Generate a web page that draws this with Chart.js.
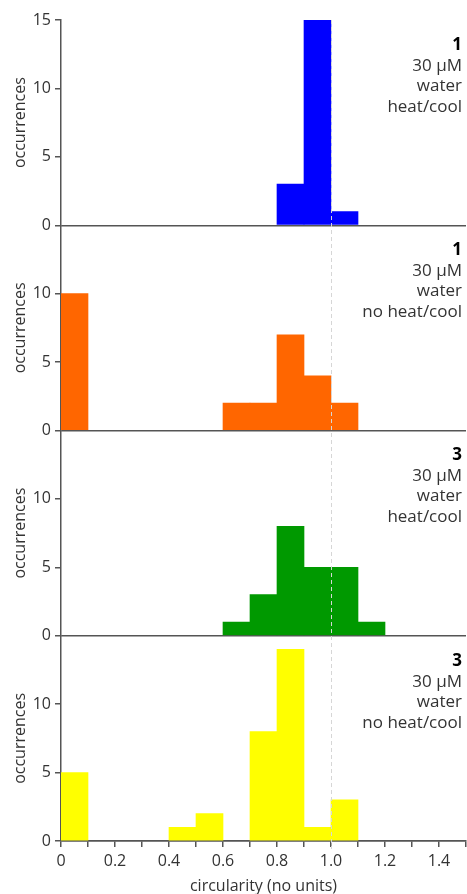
<!DOCTYPE html>
<html>
<head>
<meta charset="utf-8">
<script src="https://cdn.jsdelivr.net/npm/chart.js@4"></script>
<style>
  html, body { margin: 0; padding: 0; background: #fff; }
  #wrap { width: 467px; height: 894px; }
</style>
</head>
<body>
<div id="wrap"><canvas id="histChart"></canvas></div>
<script>
// bin centres (circularity, bins 0.1 wide)
const binCenters = [0.05, 0.15, 0.25, 0.35, 0.45, 0.55, 0.65, 0.75, 0.85, 0.95, 1.05, 1.15, 1.25, 1.35, 1.45];

// occurrences per bin, one list per sample
const counts1Heat   = [0, 0, 0, 0, 0, 0, 0, 0, 3, 15, 1, 0, 0, 0, 0];
const counts1NoHeat = [10, 0, 0, 0, 0, 0, 2, 2, 7, 4, 2, 0, 0, 0, 0];
const counts3Heat   = [0, 0, 0, 0, 0, 0, 1, 3, 8, 5, 5, 1, 0, 0, 0];
const counts3NoHeat = [5, 0, 0, 0, 1, 2, 0, 8, 14, 1, 3, 0, 0, 0, 0];

// panel labels
const panelCompound  = ['1', '1', '3', '3'];
const panelConc      = ['30 μM', '30 μM', '30 μM', '30 μM'];
const panelSolvent   = ['water', 'water', 'water', 'water'];
const panelTreatment = ['heat/cool', 'no heat/cool', 'heat/cool', 'no heat/cool'];
const panelColors    = ['#0000ff', '#ff6600', '#009900', '#ffff00'];

const yMax = 15;
const xMin = 0, xMax = 1.5, xStep = 0.1;
const refLine = 1.0;

const allCounts = [counts1Heat, counts1NoHeat, counts3Heat, counts3NoHeat];
const FONT = '"Open Sans", "Noto Sans", sans-serif';
const AXIS = '#555';
const TEXT = '#333';

function yAxis(i) {
    return {
        type: 'linear',
        position: 'left',
        stack: 'panels',
        stackWeight: 1,
        weight: 4 - i,
        z: 1,
        min: 0,
        max: yMax,
        afterFit: s => { s.width = 61; },
        ticks: {
            stepSize: 5,
            color: TEXT,
            font: { family: FONT, size: 16 },
            padding: 4,
            callback: v => (i > 0 && v === yMax) ? '' : v
        },
        grid: {
            color: c => (c.tick && c.tick.value === 0) ? AXIS : 'transparent',
            tickColor: c => (i > 0 && c.tick && c.tick.value === yMax) ? 'transparent' : AXIS,
            tickLength: 6,
            lineWidth: 1.5
        },
        border: { color: AXIS, width: 1.5 },
        title: {
            display: true,
            text: 'occurrences',
            color: TEXT,
            font: { family: FONT, size: 16, lineHeight: 1 },
            padding: { top: 12, bottom: 0 }
        }
    };
}

// dashed reference line at circularity = 1
const refLinePlugin = {
    id: 'refLine',
    afterDatasetsDraw(chart) {
        const { ctx, chartArea, scales } = chart;
        const px = Math.round(scales.x.getPixelForValue(refLine)) + 0.5;
        ctx.save();
        ctx.strokeStyle = '#d6d6d6';
        ctx.lineWidth = 1;
        ctx.setLineDash([4, 3]);
        ctx.beginPath();
        ctx.moveTo(px, chartArea.top);
        ctx.lineTo(px, chartArea.bottom + 8);
        ctx.stroke();
        ctx.restore();
    }
};

// sample description in the top right of each panel
const panelLabelPlugin = {
    id: 'panelLabels',
    afterDraw(chart) {
        const { ctx, chartArea } = chart;
        const x = chartArea.right - 4;
        ctx.save();
        ctx.textAlign = 'right';
        ctx.textBaseline = 'middle';
        panelCompound.forEach((c, i) => {
            const top = chart.scales['y' + (i + 1)].top;
            ctx.fillStyle = '#000';
            ctx.font = 'bold 17px ' + FONT;
            ctx.fillText(c, x, top + 25);
            ctx.fillStyle = TEXT;
            ctx.font = '17px ' + FONT;
            ctx.fillText(panelConc[i], x, top + 46);
            ctx.fillText(panelSolvent[i], x, top + 66);
            ctx.fillText(panelTreatment[i], x, top + 87);
        });
        ctx.restore();
    }
};

// empty bins are left out so no hairline is drawn on the baseline
const datasets = allCounts.map((counts, i) => ({
    data: binCenters.map((b, k) => ({ x: b, y: counts[k] })).filter(p => p.y > 0),
    yAxisID: 'y' + (i + 1),
    backgroundColor: panelColors[i],
    borderWidth: 0,
    grouped: false,
    barPercentage: 1,
    categoryPercentage: 1
}));

const scales = {
    x: {
        type: 'linear',
        position: 'bottom',
        min: xMin,
        max: xMax,
        offset: false,
        z: 1,
        afterFit: s => {
            s.height = 53;
            s.paddingRight = 0;
            s.paddingLeft = 0;
        },
        ticks: {
            stepSize: xStep,
            autoSkip: false,
            maxRotation: 0,
            color: TEXT,
            font: { family: FONT, size: 16, lineHeight: 1 },
            padding: 6,
            callback: v => {
                const k = Math.round(v * 10);
                if (k % 2) return '';
                return k === 0 ? '0' : (k / 10).toFixed(1);
            }
        },
        grid: { drawOnChartArea: false, offset: false, color: AXIS, tickLength: 6, lineWidth: 1.5 },
        border: { color: AXIS, width: 1.5 },
        title: {
            display: true,
            text: 'circularity (no units)',
            color: TEXT,
            font: { family: FONT, size: 16, lineHeight: 1 },
            padding: { top: 0, bottom: 0 }
        }
    }
};
panelCompound.forEach((_, i) => { scales['y' + (i + 1)] = yAxis(i); });

new Chart(document.getElementById('histChart'), {
    type: 'bar',
    data: { datasets },
    options: {
        responsive: true,
        maintainAspectRatio: false,
        animation: false,
        layout: { padding: { top: 20, right: 1, left: 0, bottom: 0 } },
        plugins: { legend: { display: false }, tooltip: { enabled: false } },
        scales
    },
    plugins: [refLinePlugin, panelLabelPlugin]
});
</script>
</body>
</html>
